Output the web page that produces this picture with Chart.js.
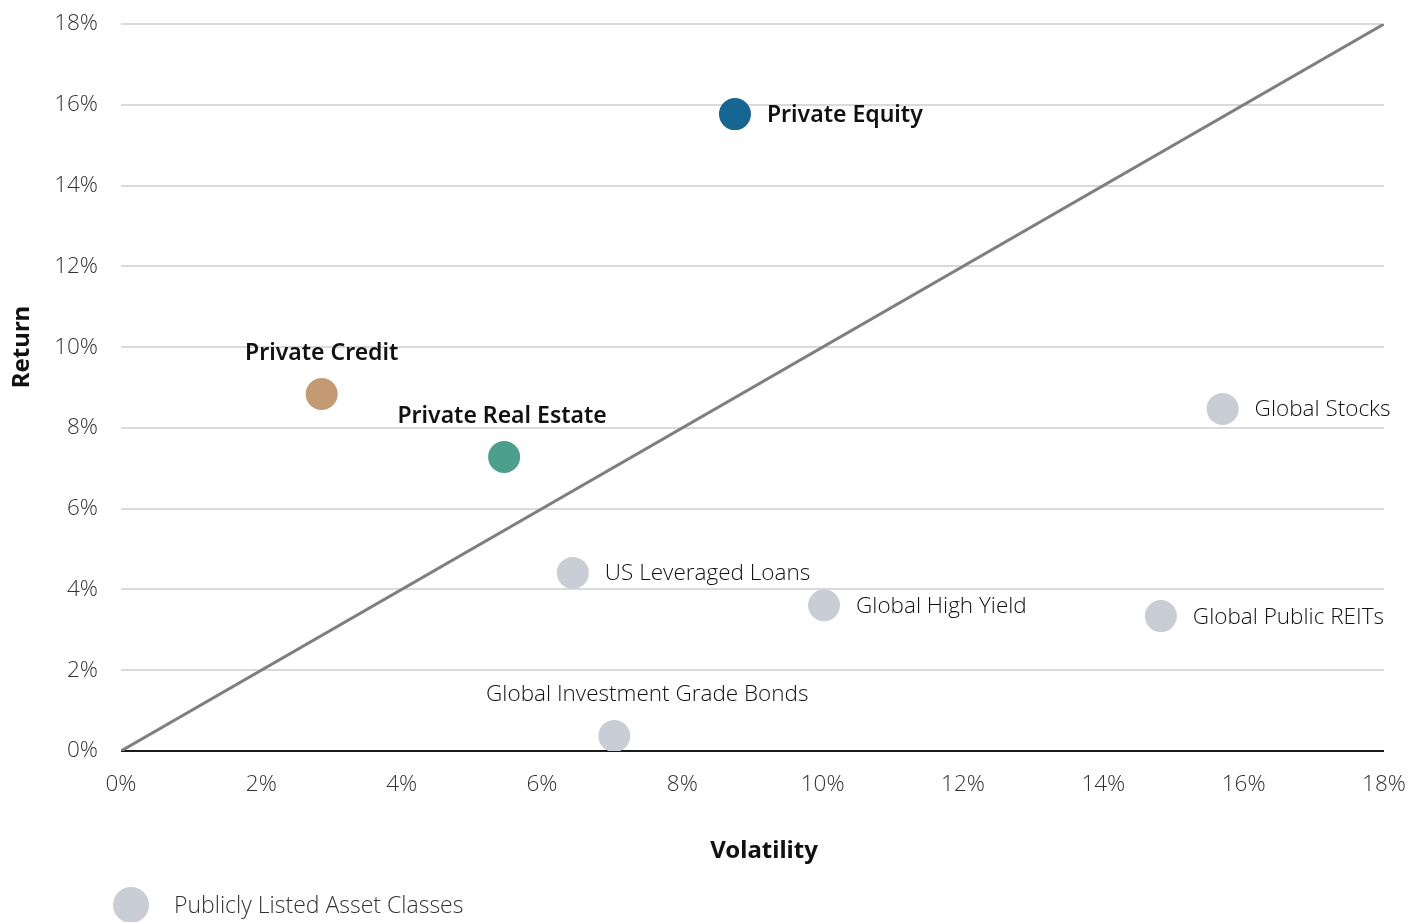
<!DOCTYPE html>
<html>
<head>
<meta charset="utf-8">
<script src="https://cdn.jsdelivr.net/npm/chart.js@4.4.1/dist/chart.umd.min.js"></script>
<style>
  html, body { margin: 0; padding: 0; background: #fff; }
  #wrap { width: 1420px; height: 922px; position: relative; }
</style>
</head>
<body>
<div id="wrap"><canvas id="riskChart"></canvas></div>
<script>
// Private markets (volatility %, return %)
const privateNames = ['Private Equity', 'Private Credit', 'Private Real Estate'];
const privateVol = [8.75, 2.86, 5.46];
const privateRet = [15.77, 8.84, 7.28];
const privateColors = ['#176593', '#c49a72', '#4c9f8c'];

// Publicly listed asset classes
const publicNames = ['Global Stocks', 'US Leveraged Loans', 'Global High Yield', 'Global Public REITs', 'Global Investment Grade Bonds'];
const publicVol = [15.70, 6.44, 10.02, 14.82, 7.03];
const publicRet = [8.47, 4.41, 3.61, 3.34, 0.37];

const axisTicks = [0, 2, 4, 6, 8, 10, 12, 14, 16, 18];

// label placement: 'right' = beside the dot, 'above' = centred above it (dx shifts the centre)
const privatePlace = [{ side: 'right' }, { side: 'above', dx: 0 }, { side: 'above', dx: -2 }];
const publicPlace = [{ side: 'right' }, { side: 'right' }, { side: 'right' }, { side: 'right' }, { side: 'above', dx: 33 }];

const toPoints = (xs, ys) => xs.map((x, i) => ({ x: x, y: ys[i] }));

const labelPlugin = {
    id: 'labels',
    afterDatasetsDraw(chart) {
        const ctx = chart.ctx;
        const drawLabels = (dsIndex, names, place, font) => {
            const meta = chart.getDatasetMeta(dsIndex);
            ctx.save();
            ctx.font = font;
            ctx.fillStyle = '#111';
            meta.data.forEach((pt, i) => {
                const p = place[i];
                if (p.side === 'right') {
                    ctx.textAlign = 'left';
                    ctx.textBaseline = 'middle';
                    ctx.fillText(names[i], pt.x + 32, pt.y + 1);
                } else {
                    ctx.textAlign = 'center';
                    ctx.textBaseline = 'middle';
                    ctx.fillText(names[i], pt.x + (p.dx || 0), pt.y - 41);
                }
            });
            ctx.restore();
        };
        drawLabels(0, privateNames, privatePlace, '600 23px "Noto Sans"');
        drawLabels(1, publicNames, publicPlace, '300 22.5px "Open Sans"');

        // axis titles
        ctx.save();
        ctx.fillStyle = '#111';
        ctx.font = '700 24px "Noto Sans"';
        ctx.textAlign = 'center';
        ctx.textBaseline = 'middle';
        ctx.fillText('Volatility', 764, 851);
        ctx.translate(22, 347);
        ctx.rotate(-Math.PI / 2);
        ctx.fillText('Return', 0, 0);
        ctx.restore();

        // legend
        ctx.save();
        ctx.fillStyle = '#c9cdd5';
        ctx.beginPath();
        ctx.arc(131, 905, 18, 0, Math.PI * 2);
        ctx.fill();
        ctx.fillStyle = '#333';
        ctx.font = '300 23px "Open Sans"';
        ctx.textAlign = 'left';
        ctx.textBaseline = 'middle';
        ctx.fillText('Publicly Listed Asset Classes', 174, 906);
        ctx.restore();
    }
};

const ctx = document.getElementById('riskChart').getContext('2d');
const riskChart = new Chart(ctx, {
    type: 'scatter',
    data: {
        datasets: [
            {
                label: 'Private',
                data: toPoints(privateVol, privateRet),
                backgroundColor: privateColors,
                borderWidth: 0,
                pointRadius: 16,
                order: 1
            },
            {
                label: 'Publicly Listed Asset Classes',
                data: toPoints(publicVol, publicRet),
                backgroundColor: '#c9cdd5',
                borderWidth: 0,
                pointRadius: 16,
                order: 2
            },
            {
                type: 'line',
                label: 'Equal risk/return',
                data: [{ x: axisTicks[0], y: axisTicks[0] }, { x: axisTicks[axisTicks.length - 1], y: axisTicks[axisTicks.length - 1] }],
                borderColor: '#7f7f7f',
                borderWidth: 3,
                pointRadius: 0,
                fill: false,
                order: 3
            }
        ]
    },
    options: {
        responsive: true,
        maintainAspectRatio: false,
        animation: false,
        layout: { padding: { top: 24, right: 36, left: 0, bottom: 0 } },
        plugins: {
            legend: { display: false },
            tooltip: { enabled: false }
        },
        scales: {
            x: {
                type: 'linear',
                min: 0,
                max: 18,
                afterBuildTicks: scale => { scale.ticks = axisTicks.map(v => ({ value: v })); },
                afterFit: scale => {
                    scale.height = 171;
                    scale.paddingLeft = 0;
                    scale.paddingRight = 0;
                },
                grid: { display: false, drawTicks: false },
                border: { display: false },
                ticks: {
                    padding: 20,
                    color: '#333',
                    font: { family: 'Open Sans', size: 22.5, weight: '300' },
                    callback: v => v + '%',
                    maxRotation: 0
                }
            },
            y: {
                type: 'linear',
                min: 0,
                max: 18,
                afterBuildTicks: scale => { scale.ticks = axisTicks.map(v => ({ value: v })); },
                afterFit: scale => {
                    scale.width = 121;
                    scale.paddingTop = 0;
                    scale.paddingBottom = 0;
                },
                grid: {
                    drawTicks: false,
                    color: c => c.tick && c.tick.value === 0 ? '#1a1a1a' : '#dadada',
                    lineWidth: 2
                },
                border: { display: false },
                ticks: {
                    padding: 23,
                    color: '#333',
                    font: { family: 'Open Sans', size: 22.5, weight: '300' },
                    callback: v => v + '%'
                }
            }
        }
    },
    plugins: [labelPlugin]
});
</script>
</body>
</html>
